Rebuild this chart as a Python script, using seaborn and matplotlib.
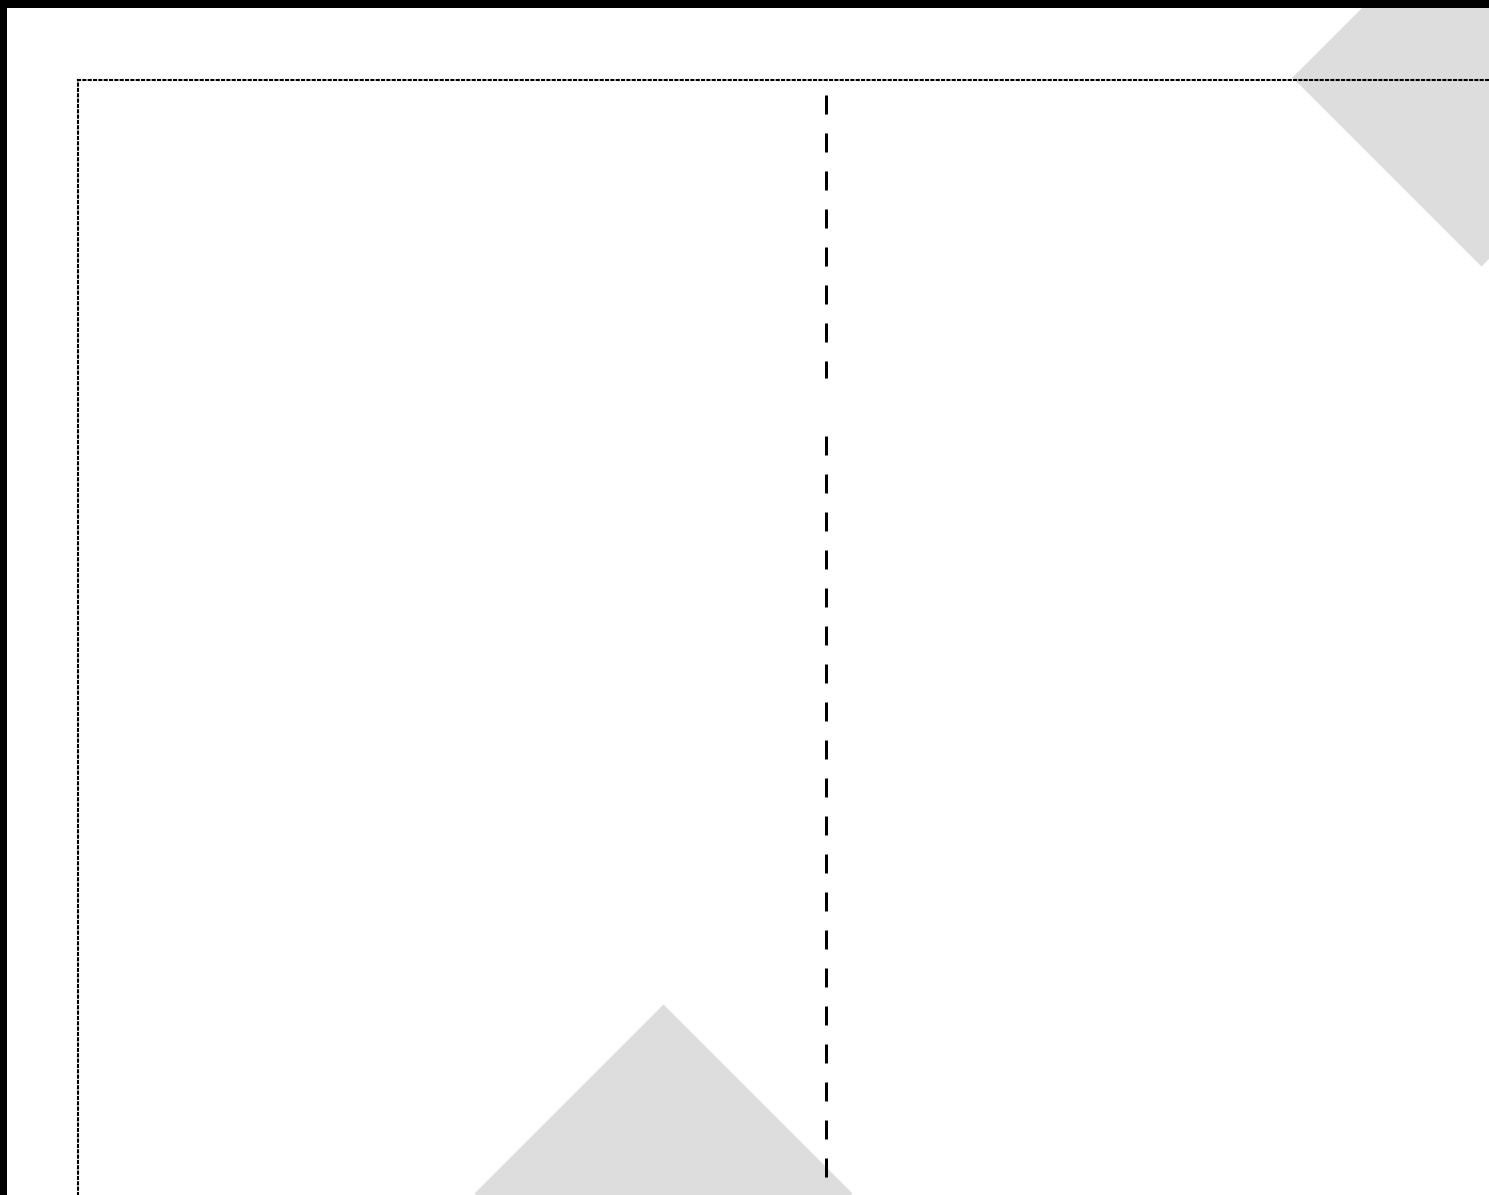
import matplotlib
matplotlib.use("Agg")
import matplotlib.pyplot as plt
from matplotlib.patches import Rectangle
import seaborn as sns
import pandas as pd

# ---- data ----
diamond_x = [39.1, 93.8]
diamond_y = [0.2, 100.3]

line_x = [50.0, 50.0, 50.0, 50.0]
line_y = [98.65, 73.3, 68.1, -5.0]
line_seg = [0, 0, 1, 1]

sns.set_style("white")
plt.rcParams["lines.scale_dashes"] = False

W, H = 1489, 1195
fig = plt.figure(figsize=(W / 100, H / 100), dpi=100)
fig.patch.set_facecolor("white")

ax_left = 78 / W
ax_width = 1496 / W
ax_top_px = 80
ax = fig.add_axes([ax_left, 0, ax_width, (H - ax_top_px) / H])
ax.set_xlim(0, 100)
ax.set_ylim(0, 100)

diamonds = pd.DataFrame({"x": diamond_x, "y": diamond_y})
sns.scatterplot(data=diamonds, x="x", y="y", marker="D", s=192.5 ** 2,
                color="#dddddd", linewidth=0, clip_on=False, ax=ax, zorder=1)

lines = pd.DataFrame({"x": line_x, "y": line_y, "seg": line_seg})
sns.lineplot(data=lines, x="x", y="y", units="seg", estimator=None, sort=False,
             color="black", linewidth=2.16, linestyle=(0, (13.68, 13.68)), ax=ax, zorder=2)

ax.set_xticks([])
ax.set_yticks([])
ax.set_xlabel("")
ax.set_ylabel("")
for side in ["left", "top"]:
    ax.spines[side].set_visible(True)
    ax.spines[side].set_linewidth(1.5)
    ax.spines[side].set_linestyle((0, (1.5, 2.34)))
    ax.spines[side].set_color("black")
    ax.spines[side].set_zorder(3)
ax.spines["right"].set_visible(False)
ax.spines["bottom"].set_visible(False)
legend = ax.get_legend()
if legend is not None:
    legend.remove()

# black frame on top and left edges of the figure
fig.add_artist(Rectangle((0, 1 - 8 / H), 1, 8 / H, transform=fig.transFigure,
                         facecolor="black", edgecolor="none", zorder=10))
fig.add_artist(Rectangle((0, 0), 7 / W, 1, transform=fig.transFigure,
                         facecolor="black", edgecolor="none", zorder=10))

fig.savefig("out.png", dpi=100)
